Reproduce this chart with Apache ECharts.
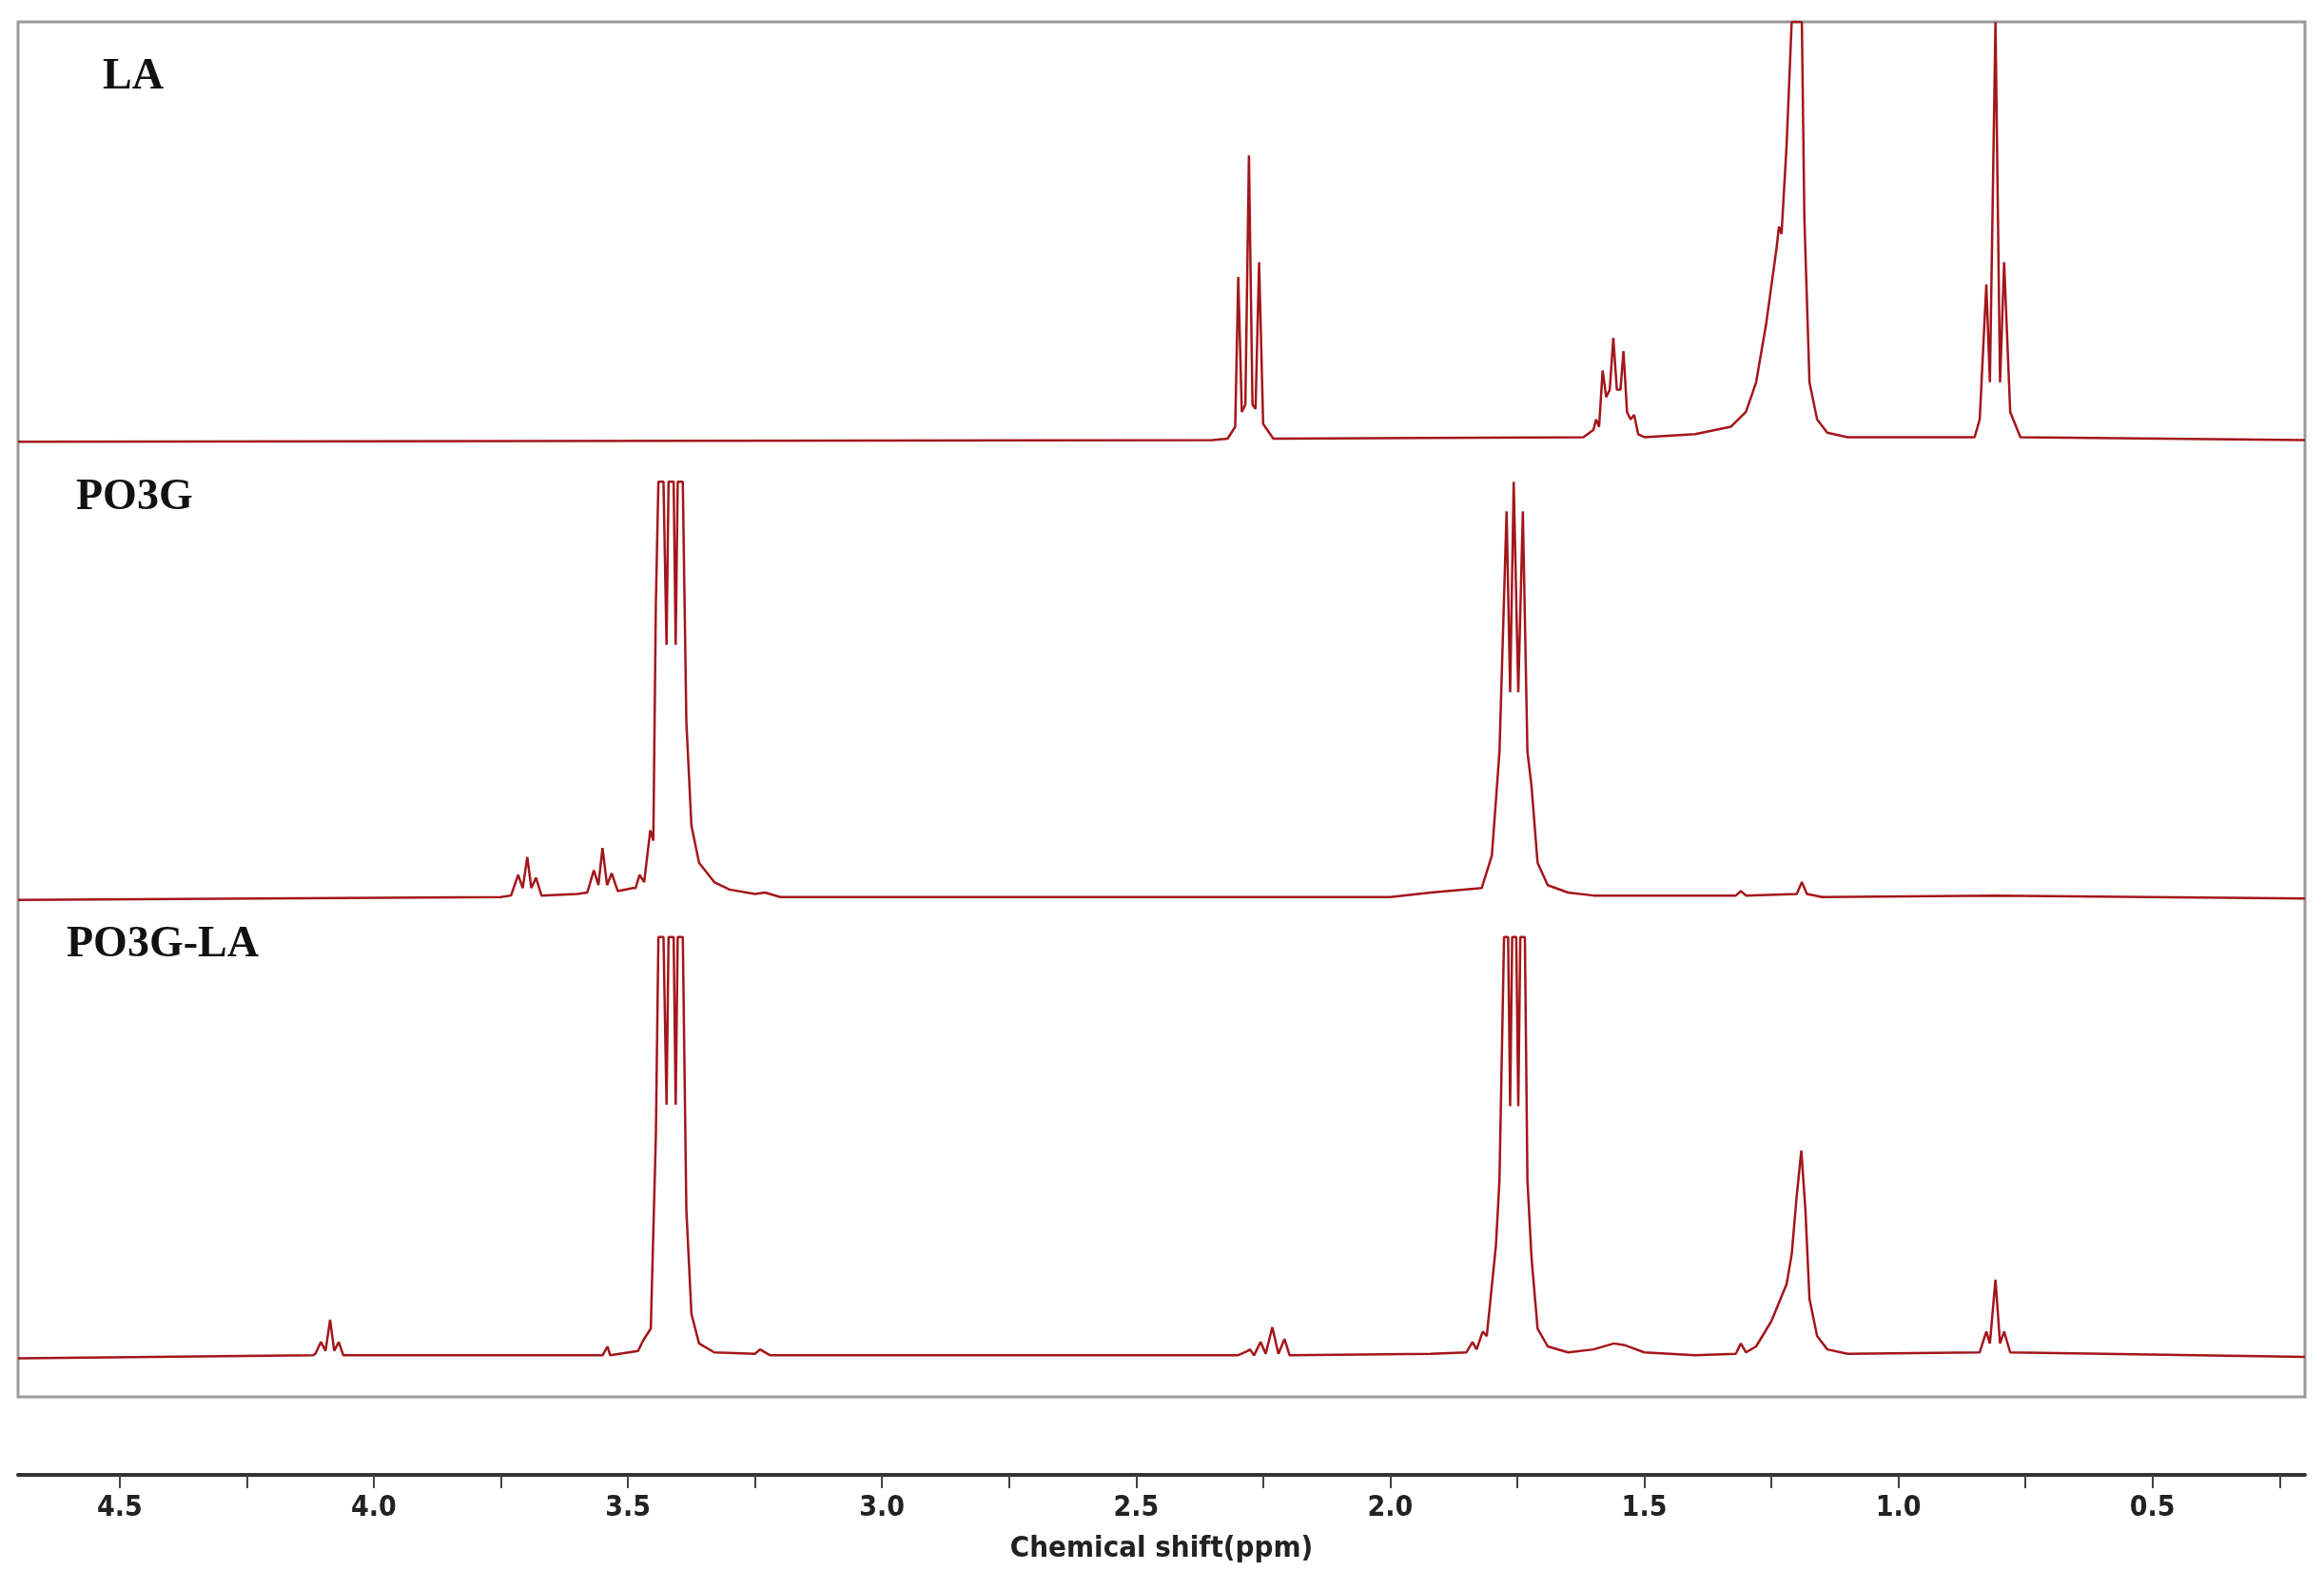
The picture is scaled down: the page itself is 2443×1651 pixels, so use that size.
<!DOCTYPE html>
<html>
<head>
<meta charset="utf-8">
<script src="https://cdn.jsdelivr.net/npm/echarts@6/dist/echarts.min.js"></script>
<style>html,body{margin:0;padding:0;background:#fff}#main{width:2443px;height:1651px}</style>
</head>
<body>
<div id="main"></div>
<script>
// spectrum points: [ppm, intensity above own baseline]
const sampleNames = ['LA', 'PO3G', 'PO3G-LA'];
const baselineOffsets = [644, 335, 26];

const laPoints = [
  [4.70,0],[2.35,1],[2.32,2],[2.305,10],[2.299,111],[2.292,20],[2.285,25],[2.278,193],[2.271,25],[2.265,22],
  [2.258,121],[2.25,12],[2.23,2],[1.62,3],[1.60,8],[1.595,15],[1.589,10],[1.582,48],[1.575,30],[1.568,35],
  [1.561,70],[1.554,35],[1.547,35],[1.541,61],[1.534,20],[1.527,15],[1.520,18],[1.512,5],[1.50,3],
  [1.40,5],[1.33,10],[1.30,20],[1.28,40],[1.26,80],[1.24,130],[1.235,145],[1.23,140],[1.22,200],[1.21,283],
  [1.205,283],[1.19,283],[1.185,150],[1.175,40],[1.16,15],[1.14,6],[1.10,3],[0.85,3],[0.84,15],
  [0.827,106],[0.82,40],[0.809,283],[0.80,40],[0.792,121],[0.78,20],[0.76,3],[0.2,1]
];
const po3gPoints = [
  [4.70,0],[3.75,2],[3.73,3],[3.716,17],[3.707,8],[3.698,29],[3.69,8],[3.681,15],[3.67,3],
  [3.60,4],[3.58,5],[3.567,20],[3.558,10],[3.55,35],[3.541,10],[3.532,18],[3.52,6],
  [3.49,8],[3.485,8],[3.477,17],[3.468,12],[3.456,47],[3.45,40],[3.445,200],[3.44,282],[3.43,282],
  [3.424,172],[3.42,282],[3.41,282],[3.406,172],[3.402,282],[3.392,282],[3.385,120],[3.375,50],[3.36,25],
  [3.33,12],[3.30,7],[3.25,4],[3.23,5],[3.20,2],[2.0,2],[1.92,5],[1.82,8],[1.80,30],[1.792,67],[1.785,100],
  [1.771,262],[1.764,140],[1.757,282],[1.748,140],[1.739,262],[1.73,100],[1.722,77],[1.71,25],[1.69,10],
  [1.65,5],[1.60,3],[1.32,3],[1.31,6],[1.30,3],[1.20,4],[1.19,12],[1.18,4],[1.15,2],[0.81,3],[0.2,1]
];
const po3gLaPoints = [
  [4.70,0],[4.12,2],[4.115,3],[4.104,11],[4.095,5],[4.086,26],[4.078,5],[4.069,11],[4.06,2],
  [3.55,2],[3.54,8],[3.535,2],[3.48,5],[3.47,12],[3.455,20],[3.445,150],[3.44,284],[3.43,284],[3.424,171],
  [3.42,284],[3.41,284],[3.406,171],[3.402,284],[3.392,284],[3.385,100],[3.375,30],[3.36,10],[3.33,4],
  [3.25,3],[3.24,6],[3.22,2],[2.30,2],[2.28,5],[2.276,6],[2.268,2],[2.255,11],[2.245,3],[2.232,21],[2.22,3],
  [2.208,13],[2.198,2],[1.92,3],[1.85,4],[1.838,11],[1.83,6],[1.818,18],[1.81,15],[1.792,76],[1.785,120],
  [1.776,284],[1.768,284],[1.764,170],[1.76,284],[1.752,284],[1.748,170],[1.744,284],[1.735,284],[1.73,120],
  [1.722,68],[1.71,20],[1.69,8],[1.65,4],[1.60,6],[1.56,10],[1.54,9],[1.50,4],[1.40,2],[1.32,3],[1.31,10],
  [1.30,4],[1.28,8],[1.25,25],[1.22,50],[1.21,70],[1.20,110],[1.191,140],[1.183,100],[1.175,40],[1.16,15],
  [1.14,6],[1.10,3],[0.84,4],[0.827,18],[0.82,10],[0.809,53],[0.80,10],[0.792,18],[0.78,4],[0.2,1]
];
const tickValues = [4.5,4.25,4.0,3.75,3.5,3.25,3.0,2.75,2.5,2.25,2.0,1.75,1.5,1.25,1.0,0.75,0.5,0.25];
const labelValues = [4.5,4.0,3.5,3.0,2.5,2.0,1.5,1.0,0.5];

const allPoints = [laPoints, po3gPoints, po3gLaPoints];
const lineColor = '#a3161b';

const chart = echarts.init(document.getElementById('main'));
chart.setOption({
  animation: false,
  backgroundColor: '#fff',
  grid: [
    { left: 19, right: 20, top: 23, height: 1445, show: true, borderColor: '#9a9a9a', borderWidth: 3 },
    { left: 19, right: 20, top: 1549, height: 1 }
  ],
  xAxis: [
    { gridIndex: 0, type: 'value', inverse: true, min: 0.2, max: 4.7, show: false },
    {
      gridIndex: 1, type: 'value', inverse: true, min: 0.2, max: 4.7,
      axisLine: { lineStyle: { color: '#333', width: 4 } },
      axisTick: { length: 14, customValues: tickValues, lineStyle: { color: '#444', width: 2 } },
      splitLine: { show: false },
      axisLabel: { margin: 20, customValues: labelValues, fontFamily: 'DejaVu Sans Condensed', fontWeight: 'bold',
        fontSize: 30, color: '#222', formatter: v => v.toFixed(1) },
      name: 'Chemical shift(ppm)', nameLocation: 'middle', nameGap: 62,
      nameTextStyle: { fontFamily: 'DejaVu Sans Condensed', fontWeight: 'bold', fontSize: 31, color: '#222' }
    }
  ],
  yAxis: [
    { gridIndex: 0, type: 'value', min: 0, max: 927, show: false },
    { gridIndex: 1, type: 'value', show: false }
  ],
  series: allPoints.map((pts, i) => ({
    type: 'line', xAxisIndex: 0, yAxisIndex: 0, showSymbol: false, silent: true,
    lineStyle: { color: lineColor, width: 2.5 },
    data: pts.map(p => [p[0], p[1] + baselineOffsets[i]])
  })),
  graphic: [
    { type: 'text', left: 108, top: 58, style: { text: sampleNames[0], font: 'bold 46px "Liberation Serif"', fill: '#111' } },
    { type: 'text', left: 80, top: 500, style: { text: sampleNames[1], font: 'bold 46px "Liberation Serif"', fill: '#111' } },
    { type: 'text', left: 70, top: 970, style: { text: sampleNames[2], font: 'bold 46px "Liberation Serif"', fill: '#111' } }
  ]
});
</script>
</body>
</html>
